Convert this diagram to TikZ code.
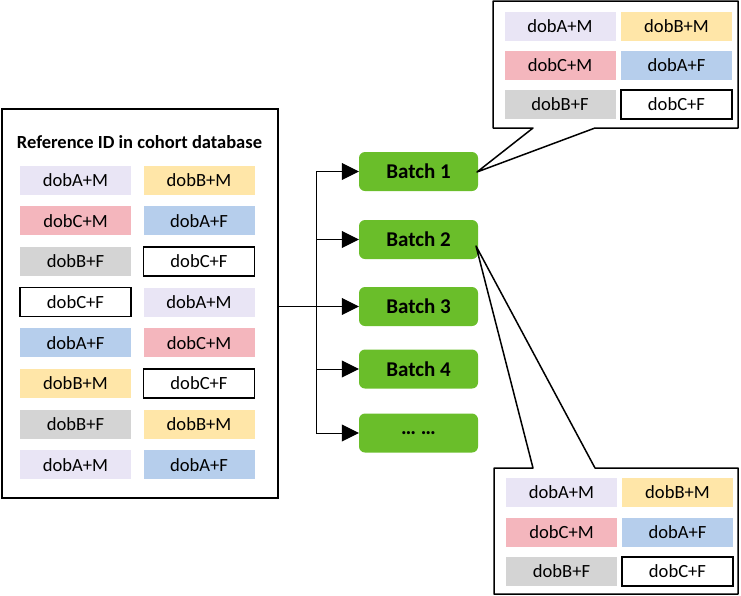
\documentclass[tikz,border=0pt]{standalone}
\usepackage{fontspec}
\setmainfont{Carlito}
\usetikzlibrary{arrows.meta}
\definecolor{lavcol}{RGB}{233,229,245}
\definecolor{yelcol}{RGB}{255,230,168}
\definecolor{pnkcol}{RGB}{244,182,189}
\definecolor{blucol}{RGB}{182,206,236}
\definecolor{grycol}{RGB}{212,212,212}
\definecolor{batchgreen}{RGB}{106,190,42}
\tikzset{
  cell/.style={minimum width=111pt, minimum height=29pt, inner sep=0pt, font=\fontsize{18.6}{20}\selectfont},
  lav/.style={fill=lavcol}, yel/.style={fill=yelcol}, pnk/.style={fill=pnkcol},
  blu/.style={fill=blucol}, gry/.style={fill=grycol},
  wht/.style={fill=white, draw=black, line width=1.5pt},
  batch/.style={fill=batchgreen, rounded corners=6pt, minimum width=119pt, minimum height=39pt, inner sep=0pt, font=\fontsize{21}{24}\selectfont\bfseries},
  tip/.style={-{Triangle[length=17pt,width=17pt]}},
  callout/.style={draw=black, fill=white, line width=1.5pt, line join=round}
}
\begin{document}
\begin{tikzpicture}[x=1pt,y=-1pt]
    \useasboundingbox (0,0) rectangle (741,595);
    % cohort database
    \node[draw, line width=2pt, minimum width=276pt, minimum height=389pt, inner sep=0pt] (db) at (140,303.5) {};
    \node[font=\fontsize{18.5}{20}\selectfont\bfseries] (title) at (139.5,142) {Reference ID in cohort database};
    \foreach \r/\ca/\ta/\cb/\tb in {0/lav/dobA+M/yel/dobB+M, 1/pnk/dobC+M/blu/dobA+F, 2/gry/dobB+F/wht/dobC+F,
            3/wht/dobC+F/lav/dobA+M, 4/blu/dobA+F/pnk/dobC+M, 5/yel/dobB+M/wht/dobC+F,
            6/gry/dobB+F/yel/dobB+M, 7/lav/dobA+M/blu/dobA+F} {
            \node[cell, \ca] (la\r) at (75.5,180+40.7*\r) {\ta};
            \node[cell, \cb] (lb\r) at (199,180+40.7*\r) {\tb};
        }
    % batches
    \coordinate (split) at (316,306);
    \foreach \i/\y/\t in {1/171.5/Batch 1, 2/239.5/Batch 2, 3/306.5/Batch 3, 4/369/Batch 4, 5/433/{… …}} {
            \node[batch] (b\i) at (418.5,\y) {\t};
        }
    \draw (split |- b1.west) -- (split |- b5.west);
    \draw[tip] (db.east |- b3.west) -- (b3.west);
    \foreach \i in {1,2,4,5} {
            \draw[tip] (split |- b\i.west) -- (b\i.west);
        }
    % callouts
    \coordinate (t1) at (477,172);
    \coordinate (t2) at (476,246);
    \draw[callout] (533,128) -- (t1) -- (595,128) -- (738,128) -- (738,1) -- (493,1) -- (493,128) -- cycle;
    \draw[callout] (533,468) -- (t2) -- (595,468) -- (738,468) -- (738,594) -- (494,594) -- (494,468) -- cycle;
    \foreach \r/\ca/\ta/\cb/\tb in {0/lav/dobA+M/yel/dobB+M, 1/pnk/dobC+M/blu/dobA+F, 2/gry/dobB+F/wht/dobC+F} {
            \node[cell, \ca] (ta\r) at (560,26.5+39*\r) {\ta};
            \node[cell, \cb] (tb\r) at (676.5,26.5+39*\r) {\tb};
            \node[cell, \ca] (ba\r) at (561.5,492.5+39.5*\r) {\ta};
            \node[cell, \cb] (bb\r) at (677.5,492.5+39.5*\r) {\tb};
        }
\end{tikzpicture}
\end{document}
